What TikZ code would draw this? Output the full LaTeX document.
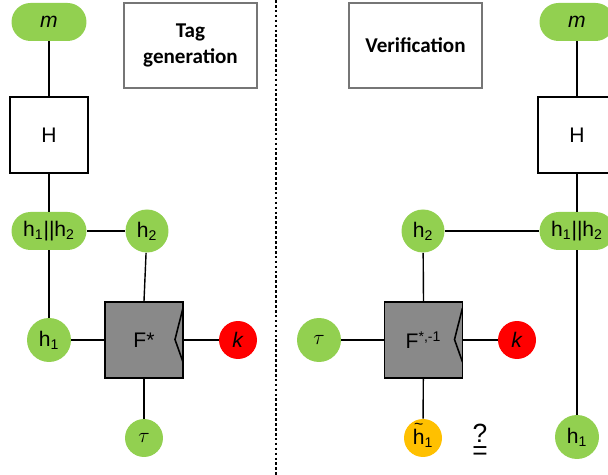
\documentclass[tikz,border=0pt]{standalone}
\usepackage{fontspec}
\setmainfont{Liberation Sans}
\newfontfamily\titlefont{Carlito}
\usetikzlibrary{positioning}

\definecolor{leaf}{HTML}{92D050}
\definecolor{keyred}{HTML}{FF0000}
\definecolor{amber}{HTML}{FFC000}
\definecolor{boxgray}{HTML}{898989}
\definecolor{framegray}{HTML}{767676}

\begin{document}
\begin{tikzpicture}[
    x=0.02cm, y=-0.02cm,
    font=\fontsize{12}{14}\selectfont,
    pill/.style={rectangle, fill=leaf, rounded corners=0.38cm, minimum width=1.5cm, minimum height=0.76cm, inner sep=0pt},
    bigdot/.style={circle, fill=leaf, minimum size=0.88cm, inner sep=0pt},
    smalldot/.style={circle, fill=leaf, minimum size=0.76cm, inner sep=0pt},
    hashbox/.style={rectangle, draw, line width=1.1pt, fill=white, minimum width=1.56cm, minimum height=1.52cm},
    cipher/.style={rectangle, draw, line width=1.1pt, fill=boxgray, minimum width=1.56cm, minimum height=1.52cm,
        path picture={
            \fill ([xshift=0.4cm]path picture bounding box.north west) rectangle ([xshift=-0.4cm, yshift=-0.17cm]path picture bounding box.north east);
            \draw[line width=0.9pt] ([yshift=-0.12cm]path picture bounding box.north east) -- ([xshift=-0.16cm, yshift=0.01cm]path picture bounding box.east) -- ([yshift=0.32cm]path picture bounding box.south east);
        }},
    title/.style={rectangle, draw=framegray, line width=0.6pt, minimum width=2.66cm, minimum height=1.7cm, align=center, font=\titlefont\bfseries\fontsize{12}{14.5}\selectfont},
    wire/.style={draw=black, line width=0.8pt}
]
    \clip (0,0) rectangle (608,475);

    % tag generation side
    \node[title] (tagbox) at (190.5,45.5) {Tag\\generation};
    \node[pill] (mL) at (49,22) {\textit{m}};
    \node[hashbox] (HL) at (49,135) {H};
    \node[pill] (hhL) at (49,231) {h\textsubscript{1}||h\textsubscript{2}};
    \node[bigdot, minimum size=0.86cm] (htwoL) at (147,231) {h\textsubscript{2}};
    \node[bigdot] (honeL) at (49,340) {h\textsubscript{1}};
    \node[cipher] (FL) at (144,340) {F*};
    \node[smalldot, fill=keyred] (kL) at (238,340) {\textit{k}};
    \node[smalldot] (tauL) at (144,438) {$\tau$};

    \draw[wire] (mL) -- (HL);
    \draw[wire] (HL) -- (hhL);
    \draw[wire] (hhL) -- (htwoL);
    \draw[wire] (hhL) -- (honeL);
    \draw[wire] (htwoL) -- (FL.north);
    \draw[wire] (honeL) -- (FL);
    \draw[wire] (FL) -- (kL);
    \draw[wire] (FL) -- (tauL);

    % divider
    \draw[line width=1.2pt, dash pattern=on 1.5pt off 1.3pt] (276,0) -- (276,475);

    % verification side
    \node[title] (verbox) at (415.5,45.5) {Verification};
    \node[pill] (mR) at (577,22) {\textit{m}};
    \node[hashbox] (HR) at (577,135) {H};
    \node[pill] (hhR) at (577,231) {h\textsubscript{1}||h\textsubscript{2}};
    \node[bigdot, minimum size=0.86cm] (htwoR) at (423,231) {h\textsubscript{2}};
    \node[cipher] (FR) at (423.5,340) {F\textsuperscript{*,-1}};
    \node[bigdot] (tauR) at (319,340) {$\tau$};
    \node[smalldot, fill=keyred] (kR) at (517,340) {\textit{k}};
    \node[smalldot, fill=amber] (htilde) at (423,438) {\ooalign{h\cr\hidewidth\smash{\raisebox{0.68em}{\fontsize{9}{9}\selectfont\~{}}}\hidewidth\cr}\textsubscript{1}};
    \node[align=center, inner sep=0pt, font=\fontsize{15}{15}\selectfont] (qeq) at (480,442) {?\\[-5pt]=};
    \node[bigdot] (honeR) at (577,437) {h\textsubscript{1}};

    \draw[wire] (mR) -- (HR);
    \draw[wire] (HR) -- (hhR);
    \draw[wire] (htwoR) -- (hhR);
    \draw[wire] (hhR) -- (honeR);
    \draw[wire] (htwoR) -- (FR.north);
    \draw[wire] (tauR) -- (FR);
    \draw[wire] (FR) -- (kR);
    \draw[wire] (FR) -- (htilde);
\end{tikzpicture}
\end{document}
